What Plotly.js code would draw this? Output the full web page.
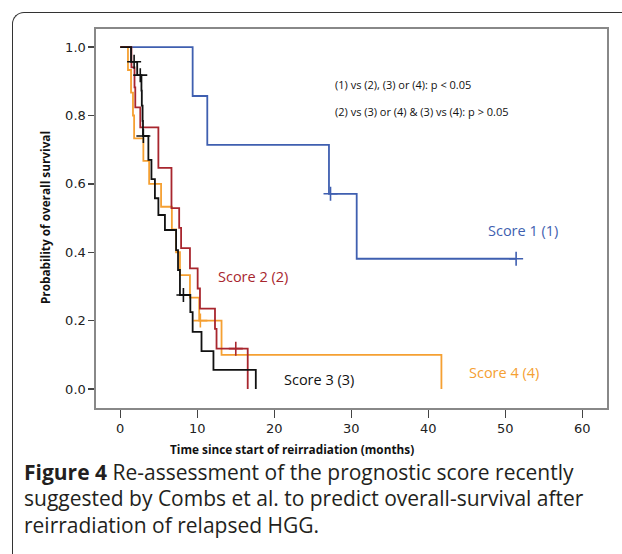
<!DOCTYPE html>
<html>
<head>
<meta charset="utf-8">
<script src="https://cdn.plot.ly/plotly-3.0.1.min.js"></script>
<style>
  html, body { margin: 0; padding: 0; background: #fff; }
  #wrap { position: relative; width: 622px; height: 554px; overflow: hidden; }
  #frame { position: absolute; left: 12px; top: 12px; width: 700px; height: 700px;
           border-left: 1.6px solid #333; border-top: 1.6px solid #333; border-top-left-radius: 12px; }
  #chart { position: absolute; left: 0; top: 0; width: 622px; height: 554px; }
</style>
</head>
<body>
<div id="wrap"><div id="frame"></div><div id="chart"></div></div>
<script>
// Score 1 (1)
const s1Time = [0, 9.4, 11.3, 27.1, 30.7, 51.4];
const s1Surv = [1, 0.857, 0.714, 0.571, 0.381, 0.381];
const s1CensTime = [27.3, 51.4];
const s1CensSurv = [0.571, 0.381];
// Score 2 (2)
const s2Time = [0, 1.45, 1.85, 1.95, 2.6, 4.95, 6.65, 7.65, 7.9, 9.05, 10.05, 10.35, 12.3, 12.5, 16.55];
const s2Surv = [1, 0.941, 0.882, 0.824, 0.765, 0.647, 0.529, 0.471, 0.412, 0.353, 0.294, 0.235, 0.176, 0.118, 0];
const s2CensTime = [15.0];
const s2CensSurv = [0.118];
// Score 3 (3)
const s3Time = [0, 1.4, 2.2, 2.75, 2.8, 2.9, 2.95, 3.65, 4.05, 4.5, 4.95, 5.8, 7.25, 7.5, 7.75, 9.1, 9.4, 10.55, 12.1, 17.6];
const s3Surv = [1, 0.957, 0.918, 0.873, 0.829, 0.784, 0.74, 0.67, 0.614, 0.558, 0.509, 0.465, 0.406, 0.348, 0.275, 0.225, 0.167, 0.111, 0.056, 0];
const s3CensTime = [1.8, 2.6, 3.0, 8.2];
const s3CensSurv = [0.957, 0.918, 0.74, 0.275];
// Score 4 (4)
const s4Time = [0, 1.0, 1.4, 1.65, 1.8, 3.0, 3.75, 5.3, 6.7, 7.25, 7.75, 9.05, 10.25, 13.15, 41.7];
const s4Surv = [1, 0.933, 0.867, 0.8, 0.733, 0.667, 0.6, 0.533, 0.467, 0.4, 0.333, 0.267, 0.2, 0.1, 0];
const s4CensTime = [10.4];
const s4CensSurv = [0.2];

const xTicks = [0, 10, 20, 30, 40, 50, 60];
const yTicks = [0, 0.2, 0.4, 0.6, 0.8, 1.0];

const colors = { s1: '#3f5fb0', s2: '#a8262e', s3: '#111111', s4: '#f5a032' };

function curve(x, y, c) {
  return { x: x, y: y, type: 'scatter', mode: 'lines', line: { shape: 'hv', color: c, width: 1.8 }, hoverinfo: 'skip' };
}
function cens(x, y, c) {
  return { x: x, y: y, type: 'scatter', mode: 'markers',
           marker: { symbol: 'cross-thin-open', size: 10, color: c, line: { color: c, width: 1.6 } }, hoverinfo: 'skip' };
}

const data = [
  curve(s1Time, s1Surv, colors.s1), cens(s1CensTime, s1CensSurv, colors.s1),
  curve(s4Time, s4Surv, colors.s4), cens(s4CensTime, s4CensSurv, colors.s4),
  curve(s2Time, s2Surv, colors.s2), cens(s2CensTime, s2CensSurv, colors.s2),
  curve(s3Time, s3Surv, colors.s3), cens(s3CensTime, s3CensSurv, colors.s3)
];

const capFont = { family: 'Open Sans, sans-serif', size: 21, color: '#231f20' };
const layout = {
  width: 622, height: 554,
  margin: { l: 96, r: 15, t: 29, b: 146 },
  paper_bgcolor: 'rgba(0,0,0,0)', plot_bgcolor: '#fff',
  showlegend: false, hovermode: false,
  xaxis: { range: [-3.15, 63.2], tickvals: xTicks, ticks: 'outside', ticklen: 8, tickwidth: 1.3, tickcolor: '#444',
           showline: true, mirror: true, linecolor: '#888', linewidth: 1.6, showgrid: false, zeroline: false,
           tickfont: { family: 'DejaVu Sans, sans-serif', size: 13, color: '#222' } },
  yaxis: { range: [-0.0556, 1.053], tickvals: yTicks, tickformat: '.1f', ticks: 'outside', ticklen: 6, tickwidth: 1.3, tickcolor: '#444',
           showline: true, mirror: true, linecolor: '#888', linewidth: 1.6, showgrid: false, zeroline: false,
           tickfont: { family: 'DejaVu Sans, sans-serif', size: 13, color: '#222' } },
  annotations: [
    { xref: 'paper', yref: 'paper', x: 0.3826, y: -0.108, text: '<b>Time since start of reirradiation (months)</b>', showarrow: false,
      font: { family: 'Open Sans, sans-serif', size: 11.8, color: '#111' }, xanchor: 'center', yanchor: 'middle' },
    { xref: 'paper', yref: 'paper', x: -0.0998, y: 0.501, text: '<b>Probability of overall survival</b>', showarrow: false, textangle: -90,
      font: { family: 'Open Sans, sans-serif', size: 11.8, color: '#111' }, xanchor: 'center', yanchor: 'middle' },
    { x: 27.66, y: 0.892, text: '(1) vs (2), (3) or (4): p < 0.05', showarrow: false, xanchor: 'left', yanchor: 'middle',
      font: { family: 'Open Sans, sans-serif', size: 11, color: '#111' } },
    { x: 27.66, y: 0.813, text: '(2) vs (3) or (4) & (3) vs (4): p > 0.05', showarrow: false, xanchor: 'left', yanchor: 'middle',
      font: { family: 'Open Sans, sans-serif', size: 11, color: '#111' } },
    { x: 52.3, y: 0.465, text: 'Score 1 (1)', showarrow: false, font: { family: 'Open Sans, sans-serif', size: 14.5, color: colors.s1 } },
    { x: 17.2, y: 0.33, text: 'Score 2 (2)', showarrow: false, font: { family: 'Open Sans, sans-serif', size: 14.5, color: colors.s2 } },
    { x: 25.8, y: 0.029, text: 'Score 3 (3)', showarrow: false, font: { family: 'Open Sans, sans-serif', size: 14.5, color: colors.s3 } },
    { x: 49.8, y: 0.047, text: 'Score 4 (4)', showarrow: false, font: { family: 'Open Sans, sans-serif', size: 14.5, color: colors.s4 } },
    { xref: 'paper', yref: 'paper', x: -0.1448, y: -0.1685, xanchor: 'left', yanchor: 'middle', showarrow: false,
      text: '<b>Figure 4</b> Re-assessment of the prognostic score recently', font: capFont },
    { xref: 'paper', yref: 'paper', x: -0.1448, y: -0.2385, xanchor: 'left', yanchor: 'middle', showarrow: false,
      text: 'suggested by Combs et al. to predict overall-survival after', font: capFont },
    { xref: 'paper', yref: 'paper', x: -0.1448, y: -0.3085, xanchor: 'left', yanchor: 'middle', showarrow: false,
      text: 'reirradiation of relapsed HGG.', font: capFont }
  ]
};

Plotly.newPlot('chart', data, layout, { displayModeBar: false, staticPlot: true });
</script>
</body>
</html>
